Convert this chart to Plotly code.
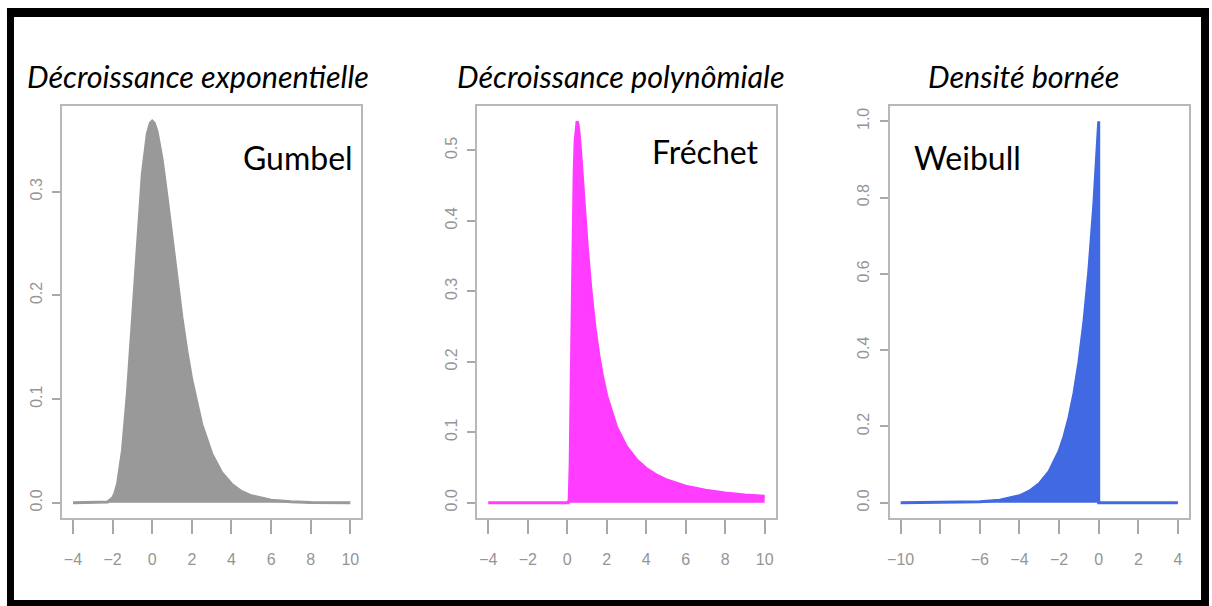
import plotly.graph_objects as go

W, H = 1212, 606

# ---- data: densities of the three extreme-value families ----
gumbel_x = [-4, -3, -2.5, -2.25, -2, -1.9, -1.75, -1.5, -1.25, -1, -0.75, -0.5,
            -0.25, -0.1, 0, 0.1, 0.25, 0.5, 0.75, 1, 1.25, 1.5, 1.75, 2, 2.5,
            3, 3.5, 4, 4.5, 5, 6, 7, 8, 9, 10]
gumbel_y = [0.0, 0.0, 0.0001, 0.0007, 0.0046, 0.0083, 0.0182, 0.0507, 0.1064,
            0.1794, 0.2549, 0.3170, 0.3556, 0.3659, 0.3679, 0.3661, 0.3575,
            0.3307, 0.2945, 0.2546, 0.2151, 0.1785, 0.1461, 0.1182, 0.0756,
            0.0474, 0.0293, 0.0180, 0.0110, 0.0067, 0.0025, 0.0009, 0.0003,
            0.0001, 0.0]

frechet_x = [-4, 0, 0.05, 0.1, 0.15, 0.2, 0.25, 0.3, 0.35, 0.4, 0.45, 0.5, 0.55,
             0.6, 0.7, 0.8, 0.9, 1.0, 1.2, 1.4, 1.6, 1.8, 2.0, 2.5, 3, 3.5, 4,
             4.5, 5, 6, 7, 8, 9, 10]
frechet_y = [0.0, 0.0, 0.0, 0.0045, 0.0566, 0.1684, 0.2931, 0.3963, 0.4688,
             0.5130, 0.5353, 0.5413, 0.5366, 0.5247, 0.4892, 0.4477, 0.4064,
             0.3679, 0.3018, 0.2498, 0.2091, 0.1771, 0.1516, 0.1073, 0.0796,
             0.0613, 0.0487, 0.0395, 0.0327, 0.0235, 0.0177, 0.0138, 0.0110,
             0.0091]

weibull_x = [-10, -8, -6, -5, -4, -3.5, -3, -2.5, -2, -1.75, -1.5, -1.25, -1,
             -0.75, -0.5, -0.25, -0.1, 0, 0, 4]
weibull_y = [0.0, 0.0003, 0.0025, 0.0067, 0.0183, 0.0302, 0.0498, 0.0821,
             0.1353, 0.1738, 0.2231, 0.2865, 0.3679, 0.4724, 0.6065, 0.7788,
             0.9048, 1.0, 0.0, 0.0]

titles = ["Décroissance exponentielle", "Décroissance polynômiale", "Densité bornée"]
names = ["Gumbel", "Fréchet", "Weibull"]
colors = ["#999999", "#FF3CFF", "#4169E1"]

xticks_a = [-4, -2, 0, 2, 4, 6, 8, 10]
xticks_b = [-10, -8, -6, -4, -2, 0, 2, 4]
xlabels_b = ["-10", "", "-6", "-4", "-2", "0", "2", "4"]
yticks = [[0, 0.1, 0.2, 0.3],
          [0, 0.1, 0.2, 0.3, 0.4, 0.5],
          [0, 0.2, 0.4, 0.6, 0.8, 1.0]]


def px(x):
    return x / W


def py(y):
    return 1 - y / H


fig = go.Figure()
series = [(gumbel_x, gumbel_y), (frechet_x, frechet_y), (weibull_x, weibull_y)]
for i, ((xs, ys), c) in enumerate(zip(series, colors)):
    sfx = "" if i == 0 else str(i + 1)
    fig.add_trace(go.Scatter(
        x=xs, y=ys, mode="lines", fill="tozeroy", fillcolor=c,
        line=dict(color=c, width=3), xaxis="x" + sfx, yaxis="y" + sfx,
        hoverinfo="skip", showlegend=False))

# plot boxes in pixels (left, right)
boxes = [(60, 360), (476, 775), (889, 1189)]
top, bottom = 106, 518
xranges = [[-4.56, 10.56], [-4.56, 10.56], [-10.56, 4.56]]
yranges = [[-0.0147, 0.3826], [-0.0217, 0.5629], [-0.04, 1.04]]

axis_common = dict(showline=True, mirror=True, linecolor="#b8b8b8", linewidth=1.5,
                   ticks="outside", tickcolor="#a8a8a8", tickwidth=1.5,
                   showgrid=False, zeroline=False, fixedrange=True)

layout = dict(width=W, height=H, margin=dict(l=0, r=0, t=0, b=0),
              paper_bgcolor="white", plot_bgcolor="white", showlegend=False)

for i in range(3):
    sfx = "" if i == 0 else str(i + 1)
    l, r = boxes[i]
    if i < 2:
        tv, tt = xticks_a, [str(v) for v in xticks_a]
    else:
        tv, tt = xticks_b, xlabels_b
    layout["xaxis" + sfx] = dict(
        axis_common, domain=[px(l), px(r)], range=xranges[i], anchor="y" + sfx,
        tickmode="array", tickvals=tv, ticktext=[t.replace("-", "\u2212") for t in tt],
        ticklen=14, ticklabelstandoff=12,
        tickfont=dict(family="Liberation Sans", size=16, color="#959595"))
    layout["yaxis" + sfx] = dict(
        axis_common, domain=[py(bottom), py(top)], range=yranges[i], anchor="x" + sfx,
        tickmode="array", tickvals=yticks[i], ticktext=["%.1f" % v for v in yticks[i]],
        ticklen=8, tickangle=-90, ticklabelstandoff=4,
        tickfont=dict(family="Liberation Sans", size=16, color="#959595"))

fig.update_layout(**layout)

# titles above each panel
title_cx = [196, 620, 1023]
for cx, t in zip(title_cx, titles):
    fig.add_annotation(x=px(cx), y=py(76), xref="paper", yref="paper",
                       text="<i>" + t + "</i>", showarrow=False,
                       xanchor="center", yanchor="middle",
                       font=dict(family="Lato", size=30.5, color="black"))

# family names inside the panels
fig.add_annotation(x=px(354), y=py(157), xref="paper", yref="paper", text=names[0],
                   showarrow=False, xanchor="right", yanchor="middle",
                   font=dict(family="Lato", size=32, color="black"))
fig.add_annotation(x=px(760), y=py(152), xref="paper", yref="paper", text=names[1],
                   showarrow=False, xanchor="right", yanchor="middle",
                   font=dict(family="Lato", size=32, color="black"))
fig.add_annotation(x=px(912), y=py(157), xref="paper", yref="paper", text=names[2],
                   showarrow=False, xanchor="left", yanchor="middle",
                   font=dict(family="Lato", size=32, color="black"))

# black frame around the whole figure
for (x0, y0, x1, y1) in [(5, 8, 1209, 17), (5, 600, 1209, 606),
                         (5, 8, 12, 606), (1201, 8, 1209, 606)]:
    fig.add_shape(type="rect", xref="paper", yref="paper",
                  x0=px(x0), x1=px(x1), y0=py(y1), y1=py(y0),
                  fillcolor="black", line=dict(width=0), layer="above")

fig.write_html("out.html")
